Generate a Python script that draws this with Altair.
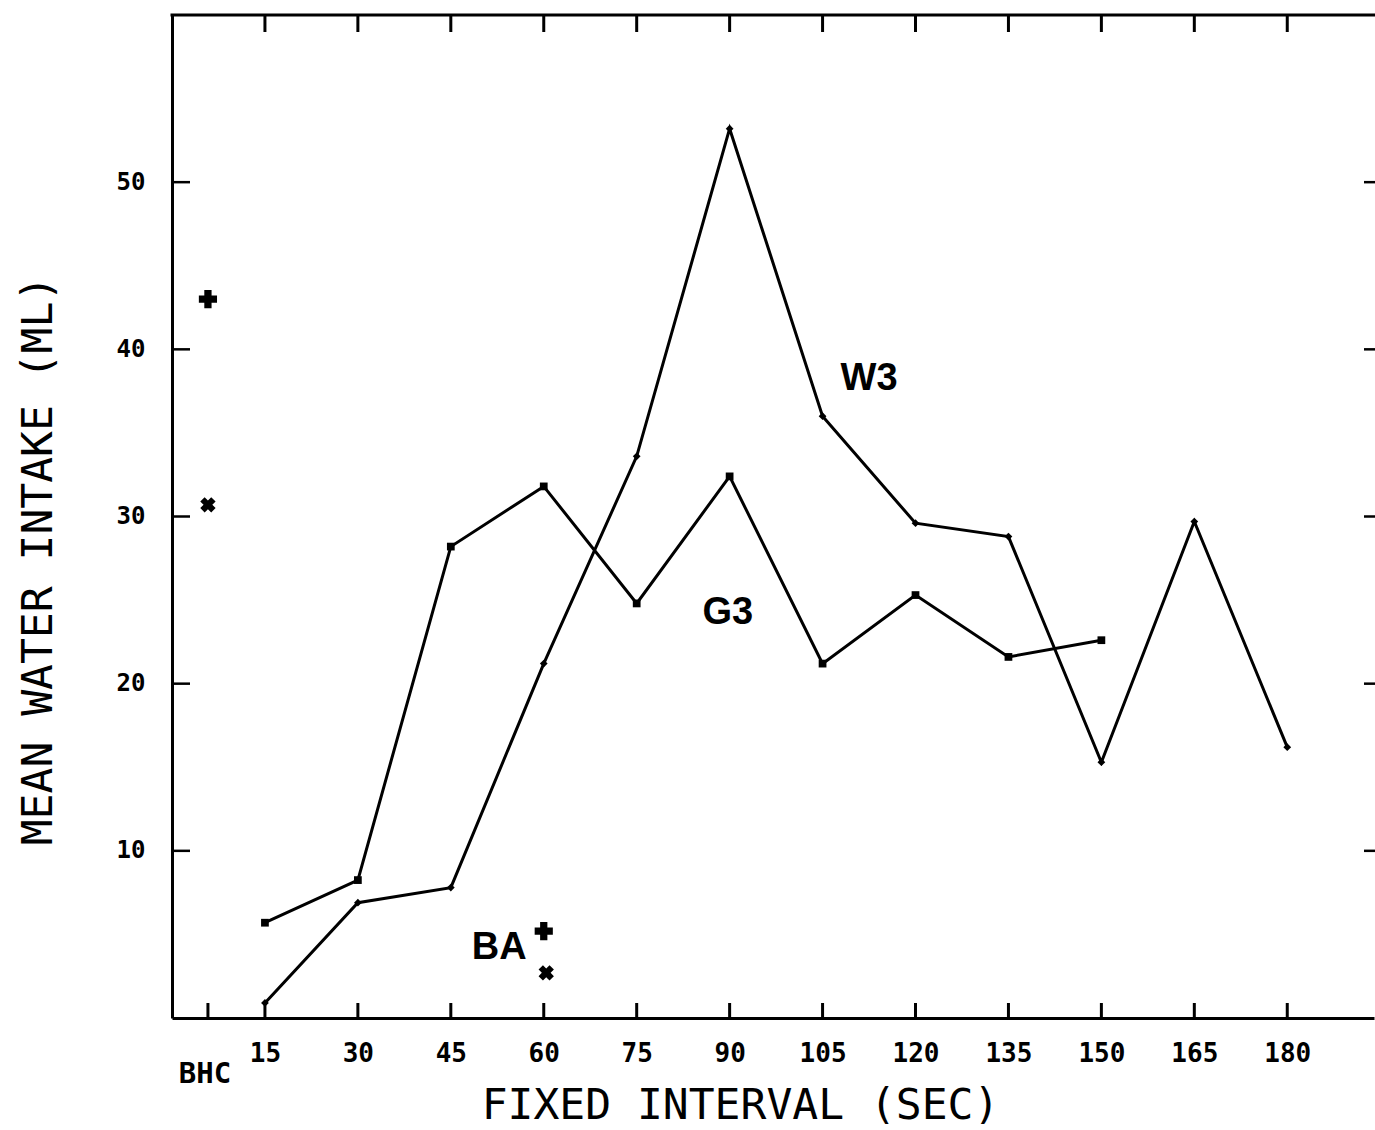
import altair as alt
import pandas as pd

# ---------------- data ----------------
intervals = [15, 30, 45, 60, 75, 90, 105, 120, 135, 150, 165, 180]
w3_values = [0.9, 6.9, 7.8, 21.2, 33.6, 53.2, 36.0, 29.6, 28.8, 15.3, 29.7, 16.2]
g3_intervals = [15, 30, 45, 60, 75, 90, 105, 120, 135, 150]
g3_values = [5.7, 8.25, 28.2, 31.8, 24.8, 32.4, 21.2, 25.3, 21.6, 22.6]

bhc_pos = 5.8          # x position of the BHC baseline condition
plus_x = [bhc_pos, 60.0]
plus_y = [43.0, 5.2]
cross_x = [bhc_pos, 60.4]
cross_y = [30.7, 2.7]

x_tick_values = [15, 30, 45, 60, 75, 90, 105, 120, 135, 150, 165, 180]
bottom_tick_values = [bhc_pos] + x_tick_values
y_tick_values = [10, 20, 30, 40, 50]

series_labels = ["W3", "G3", "BA"]
series_label_x = [112.5, 89.7, 52.8]
series_label_y = [38.2, 24.2, 4.2]

# ---------------- layout ----------------
W, H = 1202, 1003
XMAX, YMAX = 194, 60
MONO = "DejaVu Sans Mono"
SANS = "Liberation Sans"

xs = alt.Scale(domain=[0, XMAX], nice=False, zero=False)
ys = alt.Scale(domain=[0, YMAX], nice=False, zero=False)

x_axis = alt.Axis(values=x_tick_values, ticks=False, tickSize=0, grid=False,
                  domainColor="black", domainWidth=3,
                  labelFont=MONO, labelFontWeight="bold", labelFontSize=26,
                  labelColor="black", labelPadding=22,
                  title="FIXED INTERVAL (SEC)", titleFont=MONO,
                  titleFontWeight="normal", titleFontSize=43, titleColor="black",
                  titleX=568, titleY=87, titleBaseline="middle",
                  titleAlign="center", titleAnchor="start")
y_axis = alt.Axis(values=y_tick_values, ticks=False, tickSize=0, grid=False,
                  domainColor="black", domainWidth=3,
                  labelFont=MONO, labelFontWeight="bold", labelFontSize=24,
                  labelColor="black", labelPadding=27,
                  title="MEAN WATER INTAKE (ML)", titleFont=MONO,
                  titleFontWeight="normal", titleFontSize=43, titleColor="black",
                  titleX=-134, titleY=545, titleAngle=270,
                  titleBaseline="middle", titleAlign="center",
                  titleAnchor="start")


def X():
    return alt.X("x:Q", scale=xs, axis=x_axis)


def Y():
    return alt.Y("y:Q", scale=ys, axis=y_axis)


lines_df = pd.concat([
    pd.DataFrame({"x": intervals, "y": w3_values, "series": "W3"}),
    pd.DataFrame({"x": g3_intervals, "y": g3_values, "series": "G3"}),
])

base = alt.Chart(lines_df)

lines = base.mark_line(color="black", strokeWidth=3).encode(
    x=X(), y=Y(), detail="series:N",
)

pts = base.mark_point(filled=True, color="black", opacity=1).encode(
    x=X(), y=Y(),
    shape=alt.Shape("series:N", scale=alt.Scale(domain=["W3", "G3"],
                                                range=["diamond", "square"]),
                    legend=None),
    size=alt.value(60),
)

plus_df = pd.DataFrame({"x": plus_x, "y": plus_y})
cross_df = pd.DataFrame({"x": cross_x, "y": cross_y})

plus = alt.Chart(plus_df).mark_point(shape="cross", filled=True, color="black",
                                     opacity=1, size=330).encode(x=X(), y=Y())
cross = alt.Chart(cross_df).mark_point(shape="cross", angle=45, filled=True,
                                       color="black", opacity=1, size=240).encode(x=X(), y=Y())

lab_df = pd.DataFrame({"label": series_labels, "x": series_label_x, "y": series_label_y})
labels = alt.Chart(lab_df).mark_text(font=SANS, fontWeight="bold", fontSize=38,
                                     color="black", align="center",
                                     baseline="middle").encode(
    x=X(), y=Y(), text="label:N",
)

bhc_df = pd.DataFrame({"x": [bhc_pos], "label": ["BHC"]})
bhc_text = alt.Chart(bhc_df).mark_text(font=MONO, fontWeight="bold", fontSize=29,
                                       color="black", align="center",
                                       baseline="middle", dx=-3).encode(
    x=X(), y=alt.value(H + 56), text="label:N",
)

# frame: top border
top_border = alt.Chart(pd.DataFrame({"k": [0]})).mark_rule(
    color="black", strokeWidth=3).encode(
    x=alt.value(-1.5), x2=alt.value(W + 4), y=alt.value(0))

# inward ticks
bt_df = pd.DataFrame({"x": bottom_tick_values})
bottom_ticks = alt.Chart(bt_df).mark_rule(color="black", strokeWidth=3).encode(
    x=X(), y=alt.value(H), y2=alt.value(H - 15))
tt_df = pd.DataFrame({"x": x_tick_values})
top_ticks = alt.Chart(tt_df).mark_rule(color="black", strokeWidth=3).encode(
    x=X(), y=alt.value(0), y2=alt.value(17))
yt_df = pd.DataFrame({"y": y_tick_values})
left_ticks = alt.Chart(yt_df).mark_rule(color="black", strokeWidth=2.5).encode(
    y=Y(), x=alt.value(0), x2=alt.value(18))
right_ticks = alt.Chart(yt_df).mark_rule(color="black", strokeWidth=2.5).encode(
    y=Y(), x=alt.value(W - 10), x2=alt.value(W + 4))

chart = alt.layer(
    lines, top_border, bottom_ticks, top_ticks, left_ticks, right_ticks,
    pts, plus, cross, labels, bhc_text,
).properties(
    width=W, height=H,
    autosize=alt.AutoSizeParams(type="none"),
    padding={"left": 172, "top": 15, "right": 1, "bottom": 112},
    background="white",
).configure_view(stroke=None)

chart.save("out.html", embed_options={"renderer": "svg", "actions": False})
